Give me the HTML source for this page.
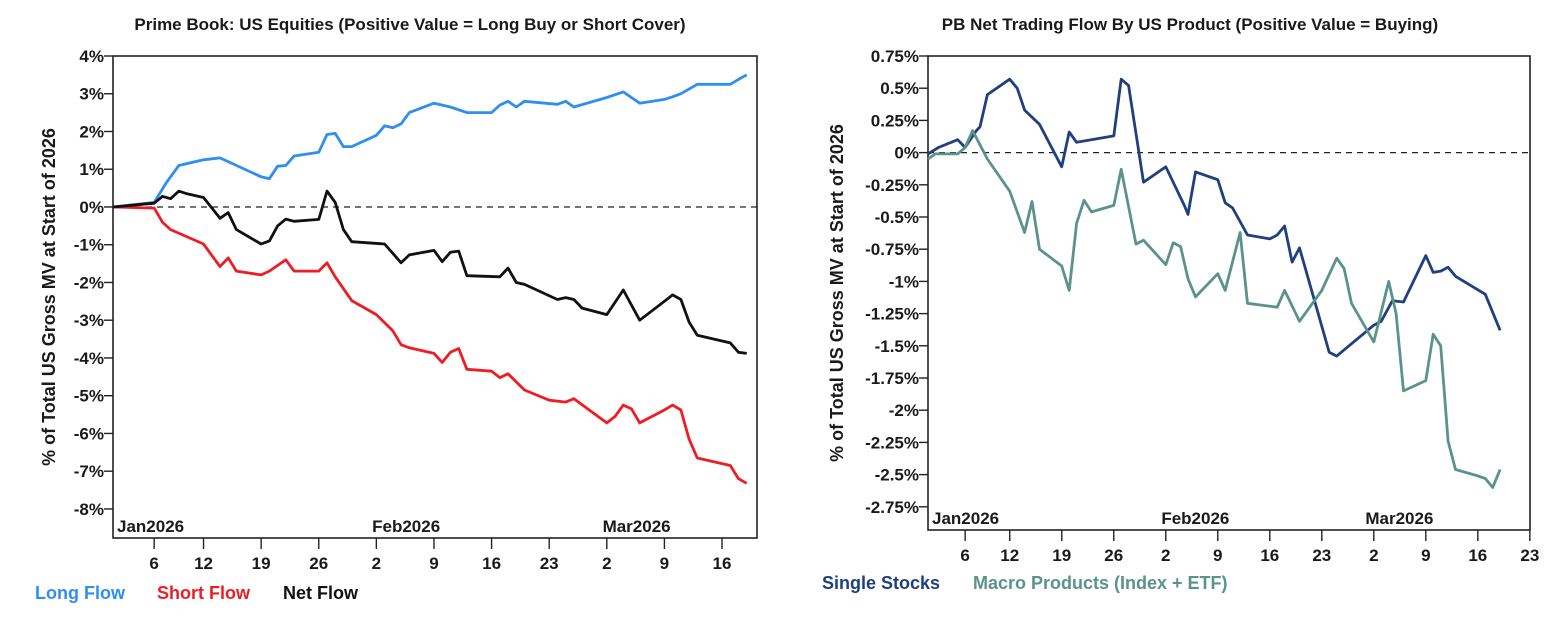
<!DOCTYPE html>
<html><head><meta charset="utf-8"><style>
html,body{margin:0;padding:0;background:#fff;}
svg{display:block;}
text{font-family:"Liberation Sans Narrow","Liberation Sans",sans-serif;font-weight:bold;fill:#1a1a1a;}
</style></head><body>
<svg id="c" width="1562" height="631" viewBox="0 0 1562 631"></svg>
<script>
// ---- Left chart data (day index from Jan 1 2026, value in %) ----
const longDays=[0,5,6.5,8,11,13,18,19,20,21,22,25,26,27,28,29,32,33,34,35,36,39,41,43,46,47,48,49,50,54,55,56,60,62,64,67,68,69,71,75,76,77];
const longVals=[0,0.12,0.65,1.1,1.25,1.3,0.8,0.75,1.08,1.1,1.35,1.45,1.92,1.95,1.6,1.6,1.9,2.15,2.1,2.2,2.5,2.75,2.65,2.5,2.5,2.7,2.8,2.65,2.8,2.72,2.8,2.65,2.9,3.05,2.75,2.85,2.92,3.0,3.25,3.25,3.38,3.5];
const netDays=[0,5,6,7,8,9,11,13,14,15,18,19,20,21,22,25,26,27,28,29,33,35,36,39,40,41,42,43,47,48,49,50,54,55,56,57,60,62,64,67,68,69,70,71,75,76,77];
const netVals=[0,0.1,0.28,0.22,0.42,0.35,0.25,-0.3,-0.15,-0.6,-0.98,-0.9,-0.5,-0.32,-0.38,-0.33,0.42,0.12,-0.6,-0.92,-0.98,-1.48,-1.27,-1.15,-1.45,-1.2,-1.17,-1.82,-1.85,-1.62,-2.0,-2.05,-2.45,-2.4,-2.45,-2.68,-2.85,-2.2,-3.0,-2.5,-2.33,-2.45,-3.05,-3.4,-3.6,-3.85,-3.88];
const shortDays=[0,5,6,7,11,13,14,15,18,19,21,22,25,26,27,29,32,34,35,36,39,40,41,42,43,46,47,48,50,53,55,56,60,61,62,63,64,67,68,69,70,71,75,76,77];
const shortVals=[0,-0.03,-0.4,-0.6,-0.98,-1.58,-1.35,-1.7,-1.8,-1.7,-1.4,-1.7,-1.7,-1.48,-1.85,-2.48,-2.85,-3.28,-3.65,-3.73,-3.88,-4.12,-3.85,-3.75,-4.3,-4.35,-4.52,-4.42,-4.85,-5.12,-5.17,-5.08,-5.72,-5.55,-5.25,-5.35,-5.72,-5.38,-5.25,-5.38,-6.15,-6.65,-6.85,-7.2,-7.32];
const leftTicks=[4,3,2,1,0,-1,-2,-3,-4,-5,-6,-7,-8];
// ---- Right chart data ----
const ssDays=[0,1.4,4,5,6.5,7,8,11,12,13,15,18,19,20,25,26,27,29,32,34.5,35,36,39,40,41,43,46,47,48,49,50,54,55,60,61,62.5,64,67,68,69,70,71,73,75,77];
const ssVals=[-0.01,0.04,0.1,0.04,0.17,0.2,0.45,0.57,0.5,0.33,0.22,-0.11,0.16,0.08,0.13,0.57,0.52,-0.23,-0.11,-0.41,-0.48,-0.15,-0.21,-0.39,-0.43,-0.64,-0.67,-0.64,-0.57,-0.85,-0.74,-1.55,-1.58,-1.34,-1.31,-1.15,-1.16,-0.8,-0.93,-0.92,-0.89,-0.96,-1.03,-1.1,-1.38];
const mpDays=[0,1,4,5,6,8,11,13,14,15,18,19,20,21,22,25,26,28,29,32,33,34,35,36,39,40,42,43,47,48,50,53,55,56,57,60,62,63,64,67,68,69,70,71,74,75,76,77];
const mpVals=[-0.05,-0.01,-0.01,0.04,0.17,-0.05,-0.3,-0.62,-0.38,-0.75,-0.88,-1.07,-0.55,-0.37,-0.46,-0.41,-0.13,-0.71,-0.68,-0.87,-0.7,-0.73,-0.98,-1.12,-0.94,-1.07,-0.62,-1.17,-1.2,-1.07,-1.31,-1.07,-0.82,-0.9,-1.17,-1.47,-1.0,-1.25,-1.85,-1.77,-1.41,-1.5,-2.24,-2.46,-2.51,-2.53,-2.6,-2.46];
const rightTicks=[0.75,0.5,0.25,0,-0.25,-0.5,-0.75,-1,-1.25,-1.5,-1.75,-2,-2.25,-2.5,-2.75];
const rightTickLabels=["0.75%","0.5%","0.25%","0%","-0.25%","-0.5%","-0.75%","-1%","-1.25%","-1.5%","-1.75%","-2%","-2.25%","-2.5%","-2.75%"];
const leftXDays=[5,11,18,25,32,39,46,53,60,67,74];
const rightXDays=[5,11,18,25,32,39,46,53,60,67,74,81];
const xTickLabels=["6","12","19","26","2","9","16","23","2","9","16","23"];
const monthDays=[0,31,59];
const monthLabels=["Jan2026","Feb2026","Mar2026"];

const svg=document.getElementById('c');
const NS='http://www.w3.org/2000/svg';
function mk(tag,attrs,parent){const e=document.createElementNS(NS,tag);for(const k in attrs)e.setAttribute(k,attrs[k]);(parent||svg).appendChild(e);return e;}

function chart(o){
  const g=mk('g',{});
  
  
  const xs=d=>o.x0+d*o.pxDay;
  const ys=v=>o.y0+(o.vMax-v)*(o.y1-o.y0)/(o.vMax-o.vMin);
  const t=mk('text',{x:o.titleX,y:30,'text-anchor':'middle','font-size':17},g);t.textContent=o.title;
  
  
  const frame=mk('rect',{x:o.x0,y:o.y0,width:o.x1-o.x0,height:o.y1-o.y0,fill:'none',stroke:'#222','stroke-width':1.6},g);
  
  
  o.yt.forEach((v,i)=>{
    const y=ys(v);
    mk('line',{x1:o.x0-9,x2:o.x0,y1:y,y2:y,stroke:'#222','stroke-width':1.4},g);
    const l=mk('text',{x:o.x0-9,y:y+6,'text-anchor':'end','font-size':17},g);l.textContent=o.ytl[i];
    
    
  });
  o.xt.forEach((d,i)=>{
    const x=xs(d);
    mk('line',{x1:x,x2:x,y1:o.y1,y2:o.y1+11,stroke:'#222','stroke-width':1.4},g);
    const l=mk('text',{x:x,y:o.y1+31,'text-anchor':'middle','font-size':17},g);l.textContent=xTickLabels[i];
    
    
  });
  monthDays.forEach((d,i)=>{
    const l=mk('text',{x:xs(d)+o.mOff[i],y:o.y1-6,'font-size':17},g);l.textContent=monthLabels[i];
    
    
  });
  const zl=mk('line',{x1:o.x0,x2:o.x1,y1:ys(0),y2:ys(0),stroke:'#222','stroke-width':1.2,'stroke-dasharray':'6,5'},g);
  
  
  const yt=mk('text',{x:0,y:0,'text-anchor':'middle','font-size':18,transform:`translate(${o.ytX},${(o.y0+o.y1)/2}) rotate(-90)`},g);
  yt.textContent='% of Total US Gross MV at Start of 2026';
  
  
  o.series.forEach(s=>{
    const p=s.days.map((d,i)=>(i?'L':'M')+xs(d).toFixed(1)+','+ys(s.vals[i]).toFixed(1)).join('');
    const path=mk('path',{d:p,fill:'none',stroke:s.color,'stroke-width':2.8,'stroke-linejoin':'round'},g);
    
    
    const lt=mk('text',{x:s.lx,y:o.legY,'font-size':18,style:'fill:'+s.color},g);lt.textContent=s.label;
    
    
  });
}
chart({name:'left-chart',title:'Prime Book: US Equities (Positive Value = Long Buy or Short Cover)',titleX:410,
  x0:113,x1:757,y0:56,y1:538,pxDay:8.23,vMax:4,vMin:-8.77,
  yt:leftTicks,ytl:leftTicks.map(v=>v+'%'),xt:leftXDays,mOff:[4,4,4],ytX:55,legY:599,
  series:[{name:'long-flow-line',label:'Long Flow',days:longDays,vals:longVals,color:'#2f8ef0',lx:35},
          {name:'short-flow-line',label:'Short Flow',days:shortDays,vals:shortVals,color:'#ee1c24',lx:157},
          {name:'net-flow-line',label:'Net Flow',days:netDays,vals:netVals,color:'#111111',lx:283}]});
chart({name:'right-chart',title:'PB Net Trading Flow By US Product (Positive Value = Buying)',titleX:1190,
  x0:928,x1:1530,y0:56,y1:530,pxDay:7.43,vMax:0.75,vMin:-2.93,
  yt:rightTicks,ytl:rightTickLabels,xt:rightXDays,mOff:[4,3,-1],ytX:843,legY:589,
  series:[{name:'single-stocks-line',label:'Single Stocks',days:ssDays,vals:ssVals,color:'#1f3f7e',lx:822},
          {name:'macro-products-line',label:'Macro Products (Index + ETF)',days:mpDays,vals:mpVals,color:'#5b938b',lx:973}]});
</script>
</body></html>
